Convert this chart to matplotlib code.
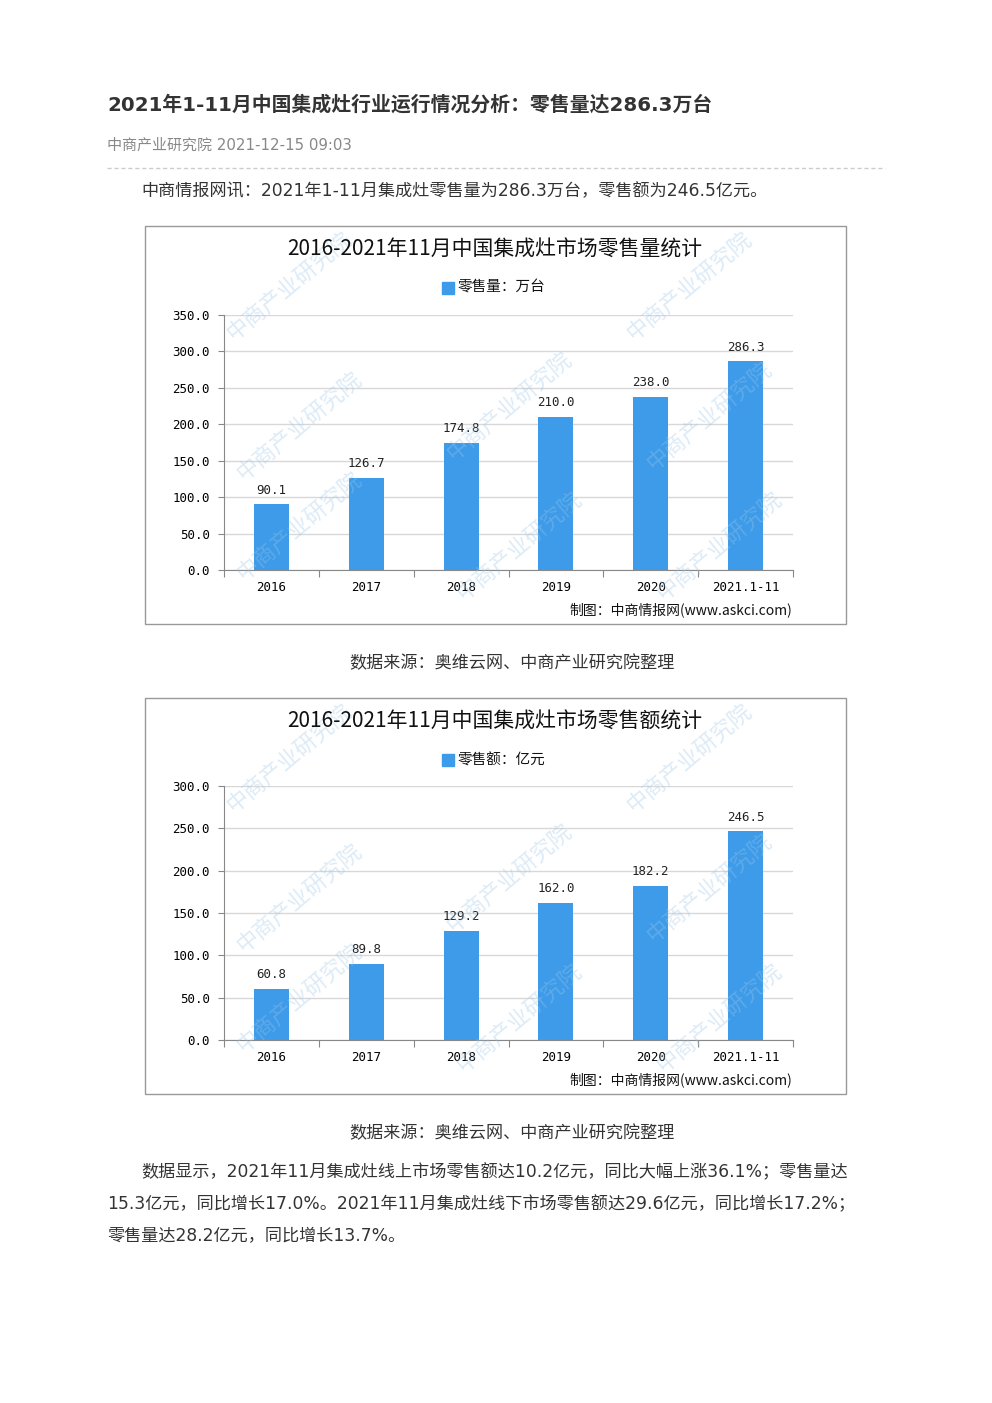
import matplotlib
matplotlib.use("Agg")
import matplotlib.pyplot as plt
from matplotlib.patches import Rectangle

plt.rcParams['font.family'] = ['DejaVu Sans', 'Noto Sans CJK SC']

years = ['2016', '2017', '2018', '2019', '2020', '2021.1-11']
volume = [90.1, 126.7, 174.8, 210.0, 238.0, 286.3]
revenue = [60.8, 89.8, 129.2, 162.0, 182.2, 246.5]

W, H = 992, 1403
fig = plt.figure(figsize=(W / 100, H / 100), dpi=100)
fig.patch.set_facecolor('white')
MONO = ['DejaVu Sans Mono', 'Noto Sans CJK SC']
CJK = ['Noto Sans CJK SC', 'DejaVu Sans']


def fx(x):
    return x / W


def fy(y):
    return 1 - y / H


def ftext(x, y, s, **kw):
    fig.text(fx(x), fy(y), s, **kw)


# page header
ftext(107, 105, '2021年1-11月中国集成灶行业运行情况分析：零售量达286.3万台',
      fontsize=14.3, fontweight='bold', color='#333333', va='center')
ftext(107, 145, '中商产业研究院 2021-12-15 09:03', fontsize=10.8, color='#888888', va='center')
fig.add_artist(plt.Line2D([fx(107), fx(885)], [fy(168), fy(168)], color='#cccccc',
                          lw=1, ls=(0, (3, 2))))
ftext(141, 191, '中商情报网讯：2021年1-11月集成灶零售量为286.3万台，零售额为246.5亿元。',
      fontsize=12.3, color='#333333', va='center')


def chart(top, bottom, ax_top, ax_bottom, ymax, step, vals, title, legend):
    # outer frame
    frame = Rectangle((fx(145), fy(bottom)), fx(846) - fx(145), fy(top) - fy(bottom),
                      transform=fig.transFigure, fill=False, ec='#999999', lw=1)
    fig.add_artist(frame)
    # faint watermarks
    for wx, wy in [(290, top + 60), (690, top + 60), (300, top + 200), (510, top + 180),
                   (710, top + 190), (300, top + 300), (520, top + 320), (720, top + 320)]:
        ftext(wx, wy, '中商产业研究院', fontsize=16, rotation=40, ha='center', va='center',
              color='#9cc6e8', alpha=0.35, family=CJK)
    ax = fig.add_axes([fx(224), fy(ax_bottom), fx(793) - fx(224), fy(ax_top) - fy(ax_bottom)])
    x = list(range(len(vals)))
    ax.bar(x, vals, width=0.37, color='#3d9be9', zorder=3)
    for xi, v in zip(x, vals):
        ax.text(xi, v + ymax * 0.03, f'{v:.1f}', ha='center', va='bottom', fontsize=9,
                color='#222222', family=MONO)
    ax.set_xlim(-0.5, len(vals) - 0.5)
    ax.set_ylim(0, ymax)
    yt = [i * step for i in range(int(ymax / step) + 1)]
    ax.set_yticks(yt)
    ax.set_yticklabels([f'{v:.1f}' for v in yt], fontsize=9, family=MONO)
    ax.set_xticks([i - 0.5 for i in range(len(vals) + 1)])
    ax.set_xticklabels([])
    ax.set_xticks(x, minor=True)
    ax.set_xticklabels(years, minor=True, fontsize=9, family=MONO)
    ax.tick_params(axis='x', which='minor', length=0, pad=8)
    ax.tick_params(axis='x', which='major', length=5, color='#888888')
    ax.tick_params(axis='y', length=4, color='#888888', pad=6)
    ax.grid(axis='y', color='#d8d8d8', lw=1, zorder=0)
    for s in ['top', 'right']:
        ax.spines[s].set_visible(False)
    ax.spines['left'].set_color('#888888')
    ax.spines['bottom'].set_color('#888888')
    ax.set_facecolor('none')
    ftext(495, top + 24, title, fontsize=15, ha='center', va='center', color='#111111',
          family=CJK)
    fig.add_artist(Rectangle((fx(442), fy(top + 68)), fx(12) - fx(0), fy(0) - fy(12),
                             transform=fig.transFigure, color='#3d9be9'))
    ftext(457, top + 62, legend, fontsize=10.5, va='center', color='#111111', family=CJK)
    ftext(792, bottom - 14, '制图：中商情报网(www.askci.com)', fontsize=10, ha='right',
          va='center', color='#111111', family=CJK)


chart(226, 624, 315, 570, 350, 50, volume, '2016-2021年11月中国集成灶市场零售量统计', '零售量：万台')
ftext(512, 663, '数据来源：奥维云网、中商产业研究院整理', fontsize=12.3, ha='center',
      va='center', color='#333333')
chart(698, 1094, 786, 1040, 300, 50, revenue, '2016-2021年11月中国集成灶市场零售额统计', '零售额：亿元')
ftext(512, 1133, '数据来源：奥维云网、中商产业研究院整理', fontsize=12.3, ha='center',
      va='center', color='#333333')

para = ['数据显示，2021年11月集成灶线上市场零售额达10.2亿元，同比大幅上涨36.1%；零售量达',
        '15.3亿元，同比增长17.0%。2021年11月集成灶线下市场零售额达29.6亿元，同比增长17.2%；',
        '零售量达28.2亿元，同比增长13.7%。']
ftext(141, 1172, para[0], fontsize=12.3, va='center', color='#333333')
ftext(107, 1204, para[1], fontsize=12.3, va='center', color='#333333')
ftext(107, 1236, para[2], fontsize=12.3, va='center', color='#333333')

fig.savefig('out.png', dpi=100)
